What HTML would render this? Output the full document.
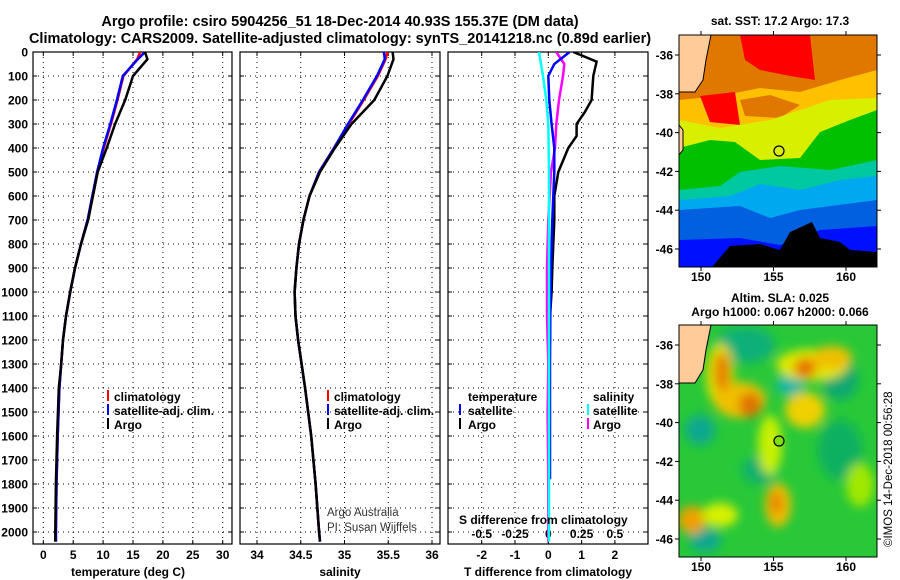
<!DOCTYPE html>
<html><head><meta charset="utf-8"><style>
body{margin:0;background:#fff;}
svg{display:block;font-family:"Liberation Sans",Arial,sans-serif;}
.t{font-weight:bold;font-size:12px;fill:#000;}
.ti{font-weight:bold;font-size:14.5px;fill:#000;}
.g{stroke:#000;stroke-width:1;stroke-dasharray:1,4;fill:none;}
</style></head><body>
<svg id="c" width="900" height="580" viewBox="0 0 900 580">
<defs>
<clipPath id="m1"><rect x="679" y="35" width="198" height="232"/></clipPath>
<clipPath id="m2"><rect x="679" y="325" width="198" height="232"/></clipPath>
<clipPath id="p1"><rect x="33" y="52" width="199" height="492"/></clipPath>
<clipPath id="p2"><rect x="240" y="52" width="200" height="492"/></clipPath>
<clipPath id="p3"><rect x="448" y="52" width="200" height="492"/></clipPath>
<filter id="bl" x="-50%" y="-50%" width="200%" height="200%"><feGaussianBlur stdDeviation="5"/></filter>
</defs>
<text class="ti" x="340" y="26" text-anchor="middle">Argo profile: csiro 5904256_51 18-Dec-2014 40.93S 155.37E (DM data)</text>
<text class="ti" x="340" y="43" text-anchor="middle">Climatology: CARS2009. Satellite-adjusted climatology: synTS_20141218.nc (0.89d earlier)</text>

<g id="axes"></g>
<g id="series"></g>

<g>
<rect x="107" y="390" width="2" height="11" fill="#f00"/><text class="t" x="114" y="401">climatology</text>
<rect x="107" y="404" width="2" height="11" fill="#00f"/><text class="t" x="114" y="415">satellite-adj. clim.</text>
<rect x="107" y="418" width="2" height="11" fill="#000"/><text class="t" x="114" y="429">Argo</text>
</g>
<g>
<rect x="327" y="390" width="2" height="11" fill="#f00"/><text class="t" x="334" y="401">climatology</text>
<rect x="327" y="404" width="2" height="11" fill="#00f"/><text class="t" x="334" y="415">satellite-adj. clim.</text>
<rect x="327" y="418" width="2" height="11" fill="#000"/><text class="t" x="334" y="429">Argo</text>
</g>
<text x="327" y="516" font-size="11.5" fill="#333">Argo Australia</text>
<text x="327" y="531" font-size="11.5" fill="#333">PI: Susan Wijffels</text>
<g>
<text class="t" x="468" y="401">temperature</text>
<rect x="459" y="404" width="2" height="11" fill="#00f"/><text class="t" x="468" y="415">satellite</text>
<rect x="459" y="418" width="2" height="11" fill="#000"/><text class="t" x="468" y="429">Argo</text>
<text class="t" x="593" y="401">salinity</text>
<rect x="587" y="404" width="2" height="11" fill="#0ff"/><text class="t" x="593" y="415">satellite</text>
<rect x="587" y="418" width="2" height="11" fill="#f0f"/><text class="t" x="593" y="429">Argo</text>
</g>
<text class="t" x="459" y="524">S difference from climatology</text>

<g clip-path="url(#m1)">
<rect x="679" y="35" width="198" height="232" fill="#e07800"/>
<path d="M679,100 L720,96 L760,88 L800,92 L840,80 L877,70 L877,150 L679,150Z" fill="#ffc000"/>
<path d="M740,35 L810,35 L815,80 L790,76 L760,70 L745,60Z" fill="#f00"/>
<path d="M700,96 L735,92 L740,125 L710,122Z" fill="#f00"/>
<path d="M740,100 L770,95 L800,105 L780,118 L745,116Z" fill="#e07800"/>
<path d="M679,120 L720,128 L770,120 L800,110 L830,100 L877,98 L877,200 L679,200Z" fill="#d8f000"/>
<path d="M679,148 L710,140 L735,142 L760,160 L800,158 L820,132 L850,120 L877,110 L877,205 L679,205Z" fill="#00c000"/>
<path d="M679,190 L720,186 L740,172 L780,166 L830,170 L877,160 L877,267 L679,267Z" fill="#00c8a0"/>
<path d="M679,200 L730,196 L760,184 L800,190 L840,180 L877,176 L877,267 L679,267Z" fill="#00a8f0"/>
<path d="M679,210 L740,206 L770,218 L800,210 L877,200 L877,267 L679,267Z" fill="#0060e0"/>
<path d="M679,240 L740,238 L780,245 L820,230 L877,226 L877,267 L679,267Z" fill="#0010ff"/>
<path d="M712,267 L730,246 L760,244 L780,250 L790,232 L812,222 L820,238 L840,242 L850,250 L877,252 L877,267Z" fill="#000"/>
<path d="M679,35 L711,35 L706,60 L703,80 L695,92 L679,92Z" fill="#ffcc99" stroke="#000"/>
<path d="M679,155 L683,150 L683,130 L679,125Z" fill="#ffcc99" stroke="#000"/>
<circle cx="779" cy="151" r="5" fill="none" stroke="#000" stroke-width="1.2"/>
</g>
<rect x="679" y="35" width="198" height="232" fill="none" stroke="#000"/>

<g clip-path="url(#m2)">
<rect x="679" y="325" width="198" height="232" fill="#28c838"/>
<g filter="url(#bl)">
<ellipse cx="745" cy="345" rx="30" ry="18" fill="#10b078"/>
<ellipse cx="790" cy="385" rx="14" ry="10" fill="#10b8a8"/>
<ellipse cx="840" cy="380" rx="18" ry="20" fill="#10a870"/>
<ellipse cx="700" cy="430" rx="15" ry="15" fill="#10a890"/>
<ellipse cx="705" cy="540" rx="16" ry="12" fill="#10a890"/>
<ellipse cx="760" cy="470" rx="18" ry="14" fill="#10b070"/>
<ellipse cx="840" cy="450" rx="22" ry="30" fill="#10b060"/>
<ellipse cx="720" cy="375" rx="14" ry="32" fill="#e0e000"/>
<ellipse cx="740" cy="400" rx="26" ry="18" fill="#f0c000"/>
<ellipse cx="722" cy="372" rx="8" ry="20" fill="#e88000"/>
<ellipse cx="750" cy="405" rx="11" ry="12" fill="#e07000"/>
<ellipse cx="812" cy="365" rx="36" ry="16" fill="#e0e800"/>
<ellipse cx="805" cy="368" rx="11" ry="10" fill="#e87000"/>
<ellipse cx="832" cy="358" rx="20" ry="12" fill="#f0c000"/>
<ellipse cx="805" cy="410" rx="20" ry="18" fill="#f0d000"/>
<ellipse cx="770" cy="445" rx="12" ry="30" fill="#c8f000"/>
<ellipse cx="778" cy="505" rx="13" ry="22" fill="#f0c000"/>
<ellipse cx="776" cy="503" rx="6" ry="12" fill="#e88000"/>
<ellipse cx="692" cy="520" rx="14" ry="14" fill="#f0a000"/>
<ellipse cx="720" cy="515" rx="18" ry="12" fill="#d8f000"/>
<ellipse cx="860" cy="485" rx="14" ry="22" fill="#a0e800"/>
</g>
<path d="M679,325 L711,325 L706,350 L703,370 L695,383 L679,383Z" fill="#ffcc99" stroke="#000"/>
<circle cx="779" cy="441" r="5" fill="#80e000" stroke="#000" stroke-width="1.2"/>
</g>
<rect x="679" y="325" width="198" height="232" fill="none" stroke="#000"/>
<text class="t" x="780" y="25" text-anchor="middle">sat. SST: 17.2 Argo: 17.3</text>
<text class="t" x="780" y="302" text-anchor="middle">Altim. SLA: 0.025</text>
<text class="t" x="780" y="316" text-anchor="middle">Argo h1000: 0.067 h2000: 0.066</text>
<text x="892" y="547" font-size="11.5" fill="#000" transform="rotate(-90 892 547)">©IMOS 14-Dec-2018 00:56:28</text>
</svg>
<script>
const depthTicks=[0,100,200,300,400,500,600,700,800,900,1000,1100,1200,1300,1400,1500,1600,1700,1800,1900,2000];
const tempTicks=[0,5,10,15,20,25,30];
const salTicks=[34,34.5,35,35.5,36];
const salTickLabels=["34","34.5","35","35.5","36"];
const tdTicks=[-2,-1,0,1,2];
const sdTicks=[-0.5,-0.25,0,0.25,0.5];
const sdTickLabels=["-0.5","-0.25","0","0.25","0.5"];
const latTicks=[-36,-38,-40,-42,-44,-46];
const lonTicks=[150,155,160];

const depths=[0,30,100,200,300,400,500,600,700,800,900,1000,1100,1200,1300,1400,1600,1800,2000,2040];
const tempArgo=[17.0,17.4,15.0,13.7,12.0,10.6,9.1,8.3,7.5,6.3,5.3,4.5,3.8,3.3,3.0,2.6,2.3,2.1,2.0,2.0];
const tempClim=[16.2,15.7,13.4,12.4,11.3,10.1,9.1,8.3,7.4,6.3,5.3,4.5,3.8,3.3,3.0,2.7,2.4,2.2,2.1,2.1];
const tempSat=[17.0,15.8,13.3,12.3,11.2,10.0,9.0,8.2,7.4,6.3,5.3,4.5,3.8,3.3,3.0,2.7,2.4,2.2,2.1,2.1];
const salArgo=[35.55,35.56,35.49,35.34,35.08,34.89,34.72,34.60,34.53,34.48,34.45,34.43,34.44,34.47,34.51,34.55,34.62,34.67,34.71,34.72];
const salClim=[35.49,35.47,35.38,35.22,35.05,34.88,34.71,34.60,34.53,34.48,34.45,34.43,34.44,34.47,34.51,34.55,34.62,34.67,34.71,34.72];
const salSat=[35.45,35.46,35.37,35.21,35.04,34.88,34.71,34.60,34.53,34.48,34.45,34.43,34.44,34.47,34.51,34.55,34.62,34.67,34.71,34.72];

const dTArgoDepth=[0,40,100,200,250,300,350,400,450,500,600,700,800,900,1000,1100,1200,1320];
const dTArgo=[0.75,1.45,1.35,1.3,1.1,0.85,0.85,0.6,0.45,0.3,0.18,0.18,0.15,0.12,0.1,0.05,0.05,0.0];
const dTSatDepth=[0,50,100,200,300,400,500,600,700,900,1100,1300,1500,1780];
const dTSat=[0.64,0.18,0.0,0.03,0.1,0.18,0.18,0.15,0.12,0.08,0.06,0.05,0.05,0.05];
const dSArgoDepth=[0,50,100,200,300,400,500,700,900,1100,1300,1500,1800,2040];
const dSArgo=[0.06,0.12,0.11,0.08,0.06,0.05,0.02,0.0,-0.01,-0.01,0.0,-0.005,0.0,0.0];
const dSSatDepth=[0,100,200,300,500,800,1200,1600,2040];
const dSSat=[-0.07,-0.04,-0.015,0.0,0.005,0.005,0.005,0.005,0.005];

const NS="http://www.w3.org/2000/svg";
const top0=52,bot=544;
const yD=d=>top0+d*0.24;
const xT=v=>43.3+v*5.98;
const xS=v=>257+(v-34)*87.5;
const xDT=v=>548.3+v*33.3;
const xDS=v=>548.3+v*133.2;
function mk(tag,attrs,parent){const e=document.createElementNS(NS,tag);for(const k in attrs)e.setAttribute(k,attrs[k]);parent.appendChild(e);return e;}
const ax=document.getElementById('axes'),se=document.getElementById('series');
const panels=[{x0:33,x1:232,ticks:tempTicks,lab:tempTicks.map(String),fx:xT,title:"temperature (deg C)",tx:128,name:"temperature"},
{x0:240,x1:440,ticks:salTicks,lab:salTickLabels,fx:xS,title:"salinity",tx:340,name:"salinity"},
{x0:448,x1:648,ticks:tdTicks,lab:tdTicks.map(String),fx:xDT,title:"T difference from climatology",tx:548,name:"difference"}];
panels.forEach((p,i)=>{
  const g=mk('g',{},ax);
  
  
  depthTicks.forEach(d=>{
    mk('line',{x1:p.x0,x2:p.x1,y1:yD(d),y2:yD(d),class:'g'},g);
    mk('line',{x1:p.x0,x2:p.x0+4,y1:yD(d),y2:yD(d),stroke:'#000'},g);
    mk('line',{x1:p.x1,x2:p.x1-4,y1:yD(d),y2:yD(d),stroke:'#000'},g);
    if(i===0){const t=mk('text',{x:28,y:yD(d)+4.5,'text-anchor':'end',class:'t'},g);t.textContent=d;
      
      }
  });
  p.ticks.forEach((v,j)=>{
    const x=p.fx(v);
    mk('line',{x1:x,x2:x,y1:top0,y2:bot,class:'g'},g);
    mk('line',{x1:x,x2:x,y1:bot,y2:bot-4,stroke:'#000'},g);
    mk('line',{x1:x,x2:x,y1:top0,y2:top0+4,stroke:'#000'},g);
    const t=mk('text',{x:x,y:559,'text-anchor':'middle',class:'t'},g);t.textContent=p.lab[j];
    
    
  });
  mk('rect',{x:p.x0,y:top0,width:p.x1-p.x0,height:bot-top0,fill:'none',stroke:'#000','stroke-width':1.2},g);
  const tt=mk('text',{x:p.tx,y:576,'text-anchor':'middle',class:'t'},g);tt.textContent=p.title;
  
  
});
sdTicks.forEach((v,j)=>{
  const t=mk('text',{x:xDS(v),y:538,'text-anchor':'middle',class:'t'},ax);t.textContent=sdTickLabels[j];
  
  
});
function line(vals,ds,fx,col,clip,name){
  const pts=vals.map((v,i)=>fx(v).toFixed(1)+','+yD(ds[i]).toFixed(1)).join(' ');
  const e=mk('polyline',{points:pts,fill:'none',stroke:col,'stroke-width':2.5,'clip-path':'url(#'+clip+')'},se);
  
  
}
line(tempClim,depths,xT,'#f00','p1','temp-climatology-line');
line(tempSat,depths,xT,'#00f','p1','temp-satellite-line');
line(tempArgo,depths,xT,'#000','p1','temp-argo-line');
line(salClim,depths,xS,'#f00','p2','sal-climatology-line');
line(salSat,depths,xS,'#00f','p2','sal-satellite-line');
line(salArgo,depths,xS,'#000','p2','sal-argo-line');
line(dTArgo,dTArgoDepth,xDT,'#000','p3','tdiff-argo-line');
line(dSArgo,dSArgoDepth,xDS,'#f0f','p3','sdiff-argo-line');
line(dTSat,dTSatDepth,xDT,'#00f','p3','tdiff-satellite-line');
line(dSSat,dSSatDepth,xDS,'#0ff','p3','sdiff-satellite-line');

const svg=document.getElementById('c');
[[35,267,281],[325,557,571]].forEach((m,k)=>{
  const g=mk('g',{},svg);
  
  
  latTicks.forEach(l=>{
    const y=m[0]+20+(-36-l)*19.4;
    mk('line',{x1:877,x2:881,y1:y,y2:y,stroke:'#000'},g);
    mk('line',{x1:675,x2:679,y1:y,y2:y,stroke:'#000'},g);
    const t=mk('text',{x:673,y:y+4.5,'text-anchor':'end',class:'t'},g);t.textContent=l;
    
    
  });
  lonTicks.forEach(l=>{
    const x=701+(l-150)*14.5;
    mk('line',{x1:x,x2:x,y1:m[1],y2:m[1]+4,stroke:'#000'},g);
    mk('line',{x1:x,x2:x,y1:m[0],y2:m[0]-4,stroke:'#000'},g);
    const t=mk('text',{x:x,y:m[2],'text-anchor':'middle',class:'t'},g);t.textContent=l;
    
    
  });
});
</script>
</body></html>
